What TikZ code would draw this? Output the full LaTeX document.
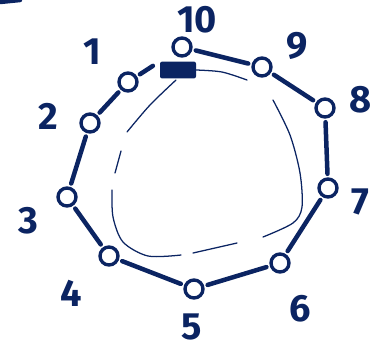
\documentclass[tikz,border=0pt]{standalone}
\usepackage{fontspec}
\setsansfont{Fira Sans}
\usetikzlibrary{positioning}
\definecolor{inkblue}{HTML}{0B2462}

\begin{document}
\begin{tikzpicture}[x=0.025cm, y=-0.025cm,
  ring/.style={circle, draw=inkblue, line width=2.4pt, minimum size=0.45cm, inner sep=0pt},
  num/.style={font=\sffamily\bfseries\fontsize{27}{29}\selectfont, text=inkblue, inner sep=0pt},
  link/.style={draw=inkblue, line width=3.2pt, line cap=round, shorten <=2.5pt, shorten >=2.5pt},
  inner/.style={draw=inkblue, line width=0.9pt, line cap=round},
  blob/.style={rectangle, fill=inkblue, minimum width=0.9cm, minimum height=0.42cm, rounded corners=1.5pt, inner sep=0pt}
]
  \useasboundingbox (0,0) rectangle (372,351);

  % ring of stations
  \node[ring] (n10) at (182,47) {};
  \node[ring] (n9) at (262,67) {};
  \node[ring] (n8) at (325,108) {};
  \node[ring] (n7) at (328,188) {};
  \node[ring] (n6) at (280,263) {};
  \node[ring] (n5) at (194,289) {};
  \node[ring] (n4) at (109,256) {};
  \node[ring] (n3) at (67,197) {};
  \node[ring] (n2) at (90,123) {};
  \node[ring] (n1) at (128,82) {};

  % numbers
  \node[num] (l10) at (197,20) {10};
  \node[num] (l9) at (297,46) {9};
  \node[num] (l8) at (361,100) {8};
  \node[num] (l7) at (360,202) {7};
  \node[num] (l6) at (300,309) {6};
  \node[num] (l5) at (192,327) {5};
  \node[num] (l4) at (71,293) {4};
  \node[num] (l3) at (28,221) {3};
  \node[num] (l2) at (48,116) {2};
  \node[num] (l1) at (92,52) {1};

  \node[blob] (blob) at (178,70) {};

  \draw[link] (n10) -- (n9);
  \draw[link] (n9) -- (n8);
  \draw[link] (n8) -- (n7);
  \draw[link] (n7) -- (n6);
  \draw[link] (n6) -- (n5);
  \draw[link] (n5) -- (n4);
  \draw[link] (n4) -- (n3);
  \draw[link] (n3) -- (n2);
  \draw[link] (n2) -- (n1);
  \draw[link, shorten >=0.6cm] (n1) -- (n10);

  % inner loop
  \draw[inner] plot[smooth] coordinates {(blob.east) (222,72) (247,80)};
  \draw[inner] plot[smooth] coordinates {(273,100) (290,135) (300,173) (302,207) (293,223) (263,237)};
  \draw[inner] plot[smooth] coordinates {(237,243) (215,248) (193,253)};
  \draw[inner] plot[smooth] coordinates {(181,255) (148,256) (123,242) (113,217) (112,190)};
  \draw[inner] plot[smooth] coordinates {(115,173) (121,151)};
  \draw[inner] plot[smooth] coordinates {(127,132) (150,105) (176,80)};

  \draw[link, shorten <=0pt, shorten >=0pt] (0,2) -- (20,0);
\end{tikzpicture}
\end{document}
